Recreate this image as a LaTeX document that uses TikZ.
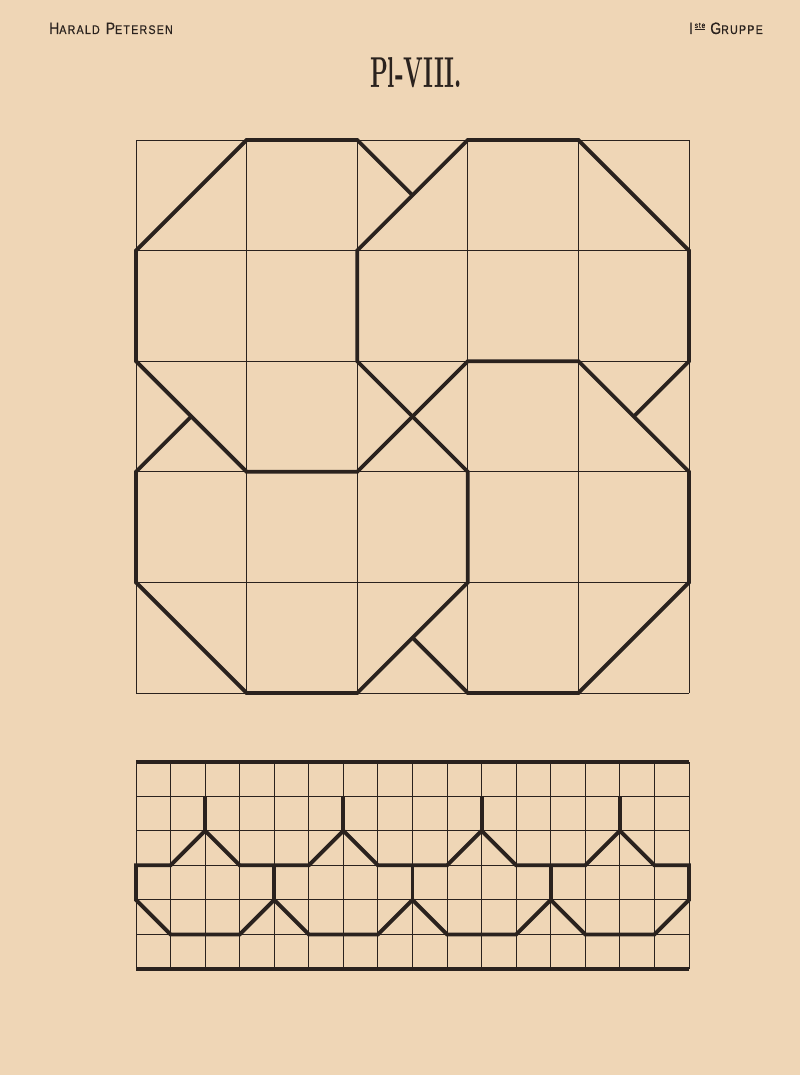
\documentclass[tikz,border=0pt]{standalone}
\usepackage{fontspec}
\newfontfamily\headfont[FakeStretch=0.85, LetterSpace=10, FakeBold=0.6]{Liberation Sans}
\definecolor{paper}{RGB}{239,214,182}
\definecolor{ink}{RGB}{42,34,30}
\tikzset{
    thin grid/.style={draw=ink, line width=0.9pt},
    thick line/.style={draw=ink, line width=3.8pt, line join=miter},
    head/.style={text=ink, inner sep=0pt}}
\newcommand{\bigsc}[2]{{\fontsize{16.5}{16.5}\selectfont #1}{\fontsize{12.5}{12.5}\selectfont #2}}

\begin{document}
\begin{tikzpicture}[x=1pt, y=1pt]

        % page
        \fill[paper] (0,0) rectangle (800,1075);
        \useasboundingbox (0,0) rectangle (800,1075);

        % headings
        \node[head, anchor=base west] (author) at (49,1041) {\headfont\bigsc{H}{ARALD}\hspace{6pt}\bigsc{P}{ETERSEN}};
        \node[head, anchor=base east] (group) at (763,1041) {\headfont\bigsc{I}{}\,\raisebox{6pt}{\fontsize{8}{8}\selectfont\underline{ste}}\hspace{5pt}\bigsc{G}{RUPPE}};
        \node[head, anchor=base] (title) at (416,987) {\resizebox{92pt}{30pt}{\bfseries\addfontfeatures{FakeBold=3}Pl-VIII.}};

        % interlaced octagons
        \begin{scope}[shift={(136pt,382pt)}, x=110.6pt, y=110.6pt]
            \draw[thin grid, step=110.6pt] (0,0) grid (5,5);
            \draw[thick line] (2.5,4.5) -- (2,5) -- (1,5) -- (0,4) -- (0,3) -- (1,2) -- (2,2) -- (3,3)
                -- (4,3) -- (5,2) -- (5,1) -- (4,0) -- (3,0) -- (2.5,0.5);
            \draw[thick line] (0.5,2.5) -- (0,2) -- (0,1) -- (1,0) -- (2,0) -- (3,1) -- (3,2) -- (2,3)
                -- (2,4) -- (3,5) -- (4,5) -- (5,4) -- (5,3) -- (4.5,2.5);
        \end{scope}

        % border band
        \begin{scope}[shift={(136pt,106pt)}, x=34.56pt, y=34.56pt]
            \draw[thin grid, step=34.56pt] (0,0) grid (16,6);
            \draw[thick line] (0,0) -- (16,0);
            \draw[thick line] (0,6) -- (16,6);
            \draw[thick line] (0,2) -- (0,3) -- (1,3) -- (2,4) -- (3,3) -- (5,3) -- (6,4) -- (7,3) -- (9,3)
                -- (10,4) -- (11,3) -- (13,3) -- (14,4) -- (15,3) -- (16,3) -- (16,2) -- (15,1) -- (13,1)
                -- (12,2) -- (11,1) -- (9,1) -- (8,2) -- (7,1) -- (5,1) -- (4,2) -- (3,1) -- (1,1) -- cycle;
            \foreach \u in {2,6,10,14}
                \draw[thick line] (\u,4) -- (\u,5);
            \foreach \u in {4,8,12}
                \draw[thick line] (\u,2) -- (\u,3);
        \end{scope}

\end{tikzpicture}
\end{document}
